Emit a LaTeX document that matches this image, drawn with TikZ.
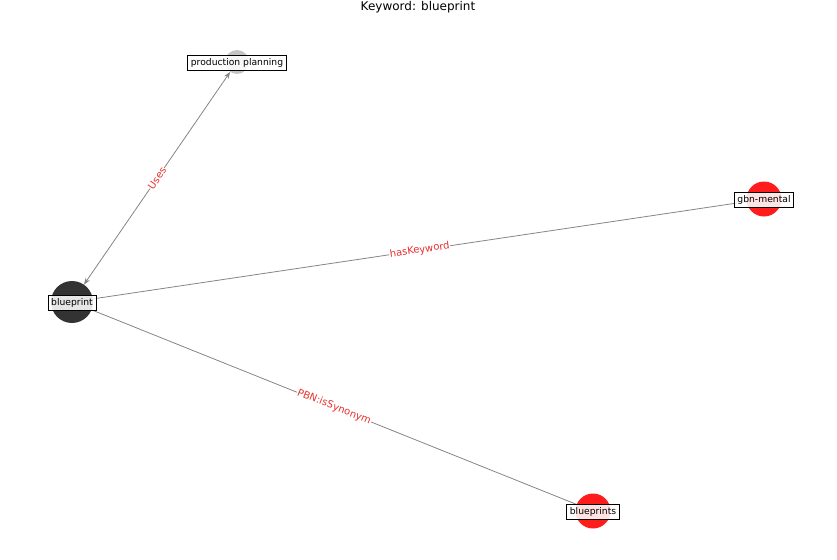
\documentclass[tikz,border=0pt]{standalone}
\usepackage{fontspec}
\setmainfont{DejaVu Sans}
\usetikzlibrary{arrows.meta}
\definecolor{hubDark}{HTML}{333333}
\definecolor{leafGray}{HTML}{C4C4C4}
\definecolor{termRed}{HTML}{FF1C1C}
\definecolor{relGray}{HTML}{858585}
\definecolor{relText}{HTML}{E8302E}

\begin{document}
\begin{tikzpicture}[x=1pt, y=-1pt, >={Stealth[length=7pt, width=5pt]},
          dot/.style={circle, draw=none, inner sep=0pt, outer sep=0pt},
          tag/.style={draw=black, line width=0.6pt, fill=white, fill opacity=0.88, text opacity=1, inner sep=3.2pt, yshift=-1pt, font=\fontsize{9.2}{11}\selectfont},
          rel/.style={draw=relGray, line width=0.8pt},
          relname/.style={sloped, midway, fill=white, text=relText, inner sep=0.5pt, font=\fontsize{10}{11}\selectfont}]
        \useasboundingbox (0,0) rectangle (837,559);
        \node[font=\fontsize{12}{14}\selectfont] (title) at (418,7) {Keyword: blueprint};
        % nodes
        \node[dot, fill=hubDark, minimum size=42pt] (bp) at (72,302) {};
        \node[dot, fill=leafGray, minimum size=24pt] (pp) at (237,62) {};
        \node[dot, fill=termRed, minimum size=35pt] (gm) at (764,199) {};
        \node[dot, fill=termRed, minimum size=35pt] (bps) at (593,511) {};
        % edges
        \draw[rel, <->] (bp) -- (pp) node[relname] {Uses};
        \draw[rel] (bp) -- (gm) node[relname] {hasKeyword};
        \draw[rel] (bp) -- (bps) node[relname] {PBN:isSynonym};
        % labels
        \node[tag] (bpLbl) at (bp) {blueprint};
        \node[tag] (ppLbl) at (pp) {production planning};
        \node[tag] (gmLbl) at (gm) {gbn-mental};
        \node[tag] (bpsLbl) at (bps) {blueprints};
      \end{tikzpicture}
\end{document}
